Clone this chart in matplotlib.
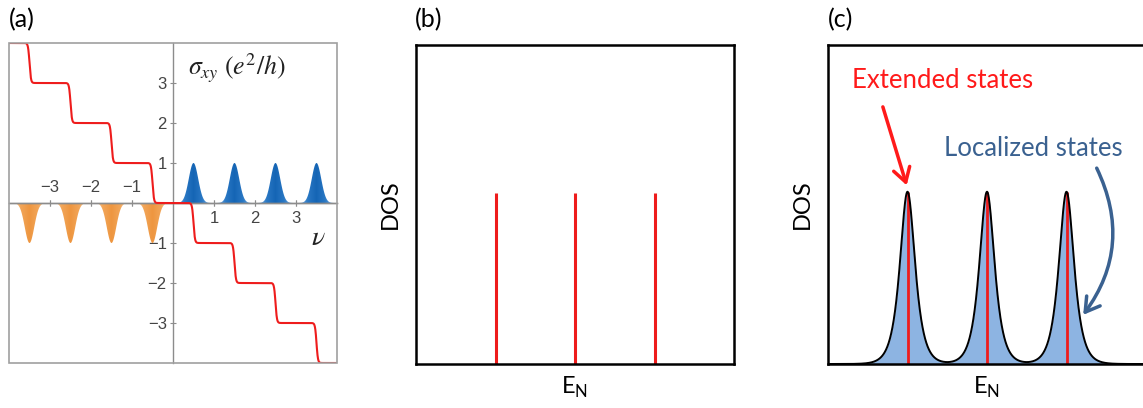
import numpy as np
import matplotlib
matplotlib.use('Agg')
import matplotlib.pyplot as plt
from matplotlib.patches import Polygon, Rectangle
from matplotlib.colors import LinearSegmentedColormap

plt.rcParams['font.family'] = ['Lato', 'DejaVu Sans']
plt.rcParams['mathtext.fontset'] = 'custom'
plt.rcParams['mathtext.rm'] = 'Lato'

# ---------------- data ----------------
# (a) Hall conductance staircase and Landau level peaks
step_centers = [-3.5, -2.5, -1.5, -0.5, 0.5, 1.5, 2.5, 3.5]
sigma_start = 4
pos_peak_nu = [0.5, 1.5, 2.5, 3.5]
pos_peak_h = [1, 1, 1, 1]
neg_peak_nu = [-3.5, -2.5, -1.5, -0.5]
neg_peak_h = [-1, -1, -1, -1]
a_ticks = [-3, -2, -1, 1, 2, 3]

# (b) clean system: delta-like levels
b_levels = [1, 2, 3]
b_heights = [0.536, 0.536, 0.536]

# (c) disordered system: broadened levels
c_levels = [1, 2, 3]
c_heights = [0.54, 0.54, 0.54]

RED = '#ee1c1c'
BLUE_TXT = '#3a6190'

fig = plt.figure(figsize=(11.43, 4.08), dpi=100)
W, H = 1143, 408
ax_a = fig.add_axes([9 / W, 1 - 363 / H, 328 / W, 320 / H])
ax_b = fig.add_axes([416 / W, 1 - 364 / H, 318 / W, 319 / H])
ax_c = fig.add_axes([828 / W, 1 - 364 / H, 318 / W, 319 / H])

# ---------------- panel (a) ----------------
blue_cm = LinearSegmentedColormap.from_list('b', ['#1565b5', '#2a78c4', '#7fb4e4'])
orange_cm = LinearSegmentedColormap.from_list('o', ['#ee9640', '#f2a659', '#fbd4a8'])


def draw_peak(ax, c, h, cmap, half=0.42, s=0.115):
    x = np.linspace(c - half, c + half, 200)
    y = h * np.exp(-0.5 * ((x - c) / s) ** 2)
    verts = np.vstack([np.column_stack([x, y]), [[c + half, 0], [c - half, 0]]])
    patch = Polygon(verts, closed=True, facecolor='none', edgecolor='none')
    ax.add_patch(patch)
    grad = np.abs(np.linspace(-1, 1, 256))[None, :]
    im = ax.imshow(grad, extent=(c - half, c + half, min(0, h), max(0, h)),
                   cmap=cmap, aspect='auto', origin='lower', zorder=2)
    im.set_clip_path(patch)


for c, h in zip(pos_peak_nu, pos_peak_h):
    draw_peak(ax_a, c, h, blue_cm)
for c, h in zip(neg_peak_nu, neg_peak_h):
    draw_peak(ax_a, c, h, orange_cm)

nu = np.linspace(-4, 4, 3000)
sigma = sigma_start - sum(0.5 * (1 + np.tanh((nu - c) / 0.035)) for c in step_centers)
ax_a.plot(nu, sigma, color=RED, lw=1.5, zorder=4)

ax_a.set_xlim(-4, 4)
ax_a.set_ylim(-4, 4)
for s in ['left', 'bottom', 'top']:
    ax_a.spines[s].set_position(('data', 0))
    ax_a.spines[s].set_color('#8c8c8c')
    ax_a.spines[s].set_linewidth(1)
ax_a.spines['right'].set_visible(False)
ax_a.add_patch(Rectangle((0, 0), 1, 1, transform=ax_a.transAxes, fill=False,
                         ec='#a0a0a0', lw=1.2, clip_on=False, zorder=5))
ax_a.set_xticks(a_ticks)
ax_a.set_yticks(a_ticks)
ax_a.xaxis.set_ticks_position('both')
ax_a.yaxis.set_ticks_position('left')
ax_a.tick_params(axis='both', direction='inout', length=5, width=0.8,
                 color='#8c8c8c', labelsize=12, labelcolor='#444444')
ax_a.tick_params(axis='x', labeltop=True, labelbottom=True, pad=3)
ax_a.tick_params(axis='y', pad=2)
for t, v in zip(ax_a.xaxis.get_major_ticks(), a_ticks):
    t.label1.set_visible(v > 0)
    t.label2.set_visible(v < 0)
    t.label1.set_family('Liberation Sans')
    t.label2.set_family('Liberation Sans')
for t in ax_a.yaxis.get_major_ticks():
    t.label1.set_family('Liberation Sans')

ax_a.text(0.546, 0.922, r'$\sigma_{xy}\ (e^2/h)$', transform=ax_a.transAxes,
          fontsize=18.5, math_fontfamily='stix', ha='left', va='center', color='#222222')
ax_a.text(0.942, 0.394, r'$\nu$', transform=ax_a.transAxes, fontsize=20,
          math_fontfamily='stix', ha='center', va='center', color='#222222')

# ---------------- panel (b) ----------------
ax_b.set_xlim(0, 4)
ax_b.set_ylim(0, 1)
ax_b.vlines(b_levels, 0, b_heights, color=RED, lw=2.2)

# ---------------- panel (c) ----------------
x = np.linspace(0, 4, 2000)
dos = sum(h / np.cosh((x - c) / 0.085) for c, h in zip(c_levels, c_heights))
ax_c.set_xlim(0, 4)
ax_c.set_ylim(0, 1)
ax_c.fill_between(x, 0, dos, color='#8db4e2', lw=0)
ax_c.vlines(c_levels, 0, c_heights, color=RED, lw=2.0)
ax_c.plot(x, dos, color='black', lw=1.4)
ax_c.spines['right'].set_visible(False)

ax_c.text(1.44, 0.89, 'Extended states', color='#ff1a1a', fontsize=18.5,
          ha='center', va='center')
ax_c.annotate('', xy=(0.99, 0.56), xytext=(0.69, 0.806),
              arrowprops=dict(arrowstyle='->,head_length=0.5,head_width=0.3',
                              color='#ff1a1a', lw=2.5, mutation_scale=20,
                              shrinkA=0, shrinkB=0))
ax_c.text(2.585, 0.677, 'Localized states', color=BLUE_TXT, fontsize=18.5,
          ha='center', va='center')
ax_c.annotate('', xy=(3.21, 0.154), xytext=(3.38, 0.614),
              arrowprops=dict(arrowstyle='->,head_length=0.5,head_width=0.3',
                              color=BLUE_TXT, lw=2.5, mutation_scale=20,
                              connectionstyle='arc3,rad=-0.3',
                              shrinkA=0, shrinkB=0))

for ax in (ax_b, ax_c):
    ax.set_xticks([])
    ax.set_yticks([])
    for s in ax.spines.values():
        s.set_linewidth(1.8)
        s.set_color('black')
    ax.set_ylabel('DOS', fontsize=17, labelpad=11)
    ax.set_xlabel(r'E$_{\mathrm{N}}$', fontsize=17, labelpad=8)

# panel letters
fig.text(9 / W, 1 - 20 / H, '(a)', fontsize=18, ha='left', va='center')
fig.text(415 / W, 1 - 20 / H, '(b)', fontsize=18, ha='left', va='center')
fig.text(828 / W, 1 - 20 / H, '(c)', fontsize=18, ha='left', va='center')

fig.savefig('out.png', dpi=100)
